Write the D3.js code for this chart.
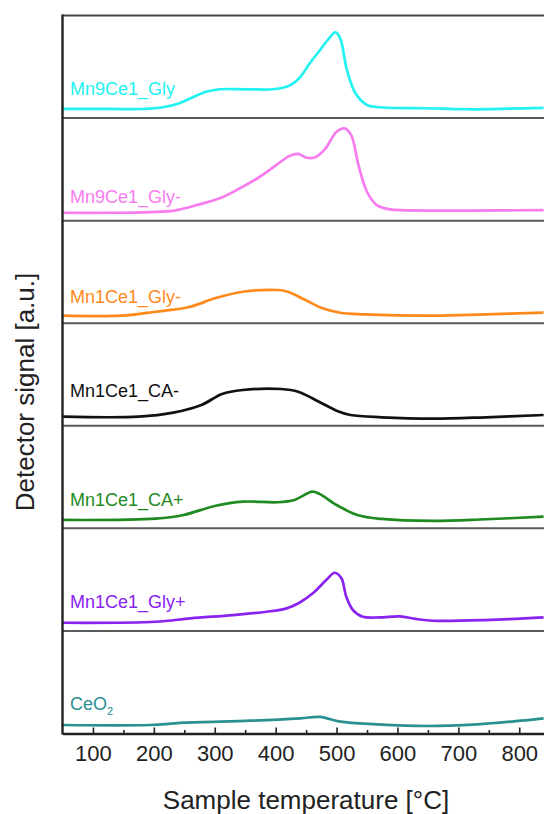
<!DOCTYPE html>
<html><head><meta charset="utf-8">
<script src="https://cdn.jsdelivr.net/npm/d3@7"></script>
<style>body{margin:0;background:#fff}svg{display:block}text{font-family:"Liberation Sans",Arial,sans-serif}</style>
</head><body><svg id="c" width="544" height="814"></svg>
<script>
// ---- data (temperature in °C, detector signal in a.u.) ----
const sampleNames = ["Mn9Ce1_Gly","Mn9Ce1_Gly-","Mn1Ce1_Gly-","Mn1Ce1_CA-","Mn1Ce1_CA+","Mn1Ce1_Gly+","CeO2"];

const tMn9Gly   = [50,127,182,215,242,264,286,308,352,396,418,430,441,456,473,488,498,506,517,531,550,572,648,714,785,840];
const sMn9Gly   = [9.1,9.1,9.1,10.8,14.8,20.8,26.4,28.8,28.8,28.8,31.4,35.2,41.5,54.8,68.1,80,85.8,79.8,48.1,24.8,13.1,10.8,9.8,8.8,9.4,10.1];

const tMn9GlyM  = [50,127,193,234,275,308,341,374,401,423,437,451,464,481,500,513,524,536,550,566,588,604,686,768,840];
const sMn9GlyM  = [7.9,7.9,8.6,10.1,16.3,22.3,32.3,43.9,55.6,64.8,66.8,62.9,63.2,71.6,88.9,92.3,85.6,55.6,28.9,15.6,11.3,10.6,10.1,10.3,10.6];

const tMn1GlyM  = [50,146,203,260,300,346,403,420,449,477,506,545,659,745,840];
const sMn1GlyM  = [7.5,7.5,11.5,16.5,24.9,31.5,33.2,31.5,23.2,14.9,10.5,8.9,7.5,8.9,10.5];

const tMn1CAM   = [50,175,232,278,312,346,409,437,471,500,523,574,659,745,840];
const sMn1CAM   = [9.1,9.1,13.1,20.8,31.8,35.8,36.8,34.1,24.1,15.1,10.8,8.5,7.1,8.5,10.8];

const tMn1CAP   = [50,203,249,300,346,403,431,460,472,500,534,574,659,745,840];
const sMn1CAP   = [8.4,9.7,13.4,22.4,26.7,26.1,28.4,36.7,34.5,23.4,13.4,9.4,7.4,9.1,11.7];

const tMn1GlyP  = [50,203,260,330,385,418,439,461,483,497,508,516,527,543,571,604,630,659,745,840];
const sMn1GlyP  = [8.2,9.2,12.6,15.9,19.2,22.6,28.2,37.6,50.9,58.2,52.6,34.2,20.9,14.2,13.6,14.6,12,10.2,10.9,13.6];

const tCeO2     = [50,194,249,359,441,473,506,566,648,731,802,840];
const sCeO2     = [8.5,8.5,10.8,12.8,15.2,16.6,11.8,9.2,7.5,9.2,12.8,15.2];

const xMajorTicks = [100,200,300,400,500,600,700,800];
const xMinorTicks = [150,250,350,450,550,650,750,850];

// ---- styles / layout ----
const lineColors = ["#22f2f2","#f77cf0","#ff8a1c","#111111","#1f8a1f","#8a22f0","#2a9090"];
const labelDy = [23.5,17.5,20,29,22.5,22.5,23.5];

const series = [
  [tMn9Gly,sMn9Gly],[tMn9GlyM,sMn9GlyM],[tMn1GlyM,sMn1GlyM],[tMn1CAM,sMn1CAM],
  [tMn1CAP,sMn1CAP],[tMn1GlyP,sMn1GlyP],[tCeO2,sCeO2]
].map(([t,s]) => t.map((v,i)=>[v,s[i]]));

const svg = d3.select("#c");
const pLeft = 62.5, pTop0 = 15.5, pBottom = 733.5, pRight = 549.7;
const nP = sampleNames.length;
const pH = (pBottom - pTop0) / nP;

const x = d3.scaleLinear().domain([50,850]).range([pLeft,pRight]);

svg.append("clipPath").attr("id","clip").append("rect")
  .attr("x",pLeft).attr("y",pTop0).attr("width",pRight-pLeft).attr("height",pBottom-pTop0);

const plot = svg.append("g").attr("clip-path","url(#clip)");

series.forEach((pts,i)=>{
  const pTop = pTop0 + i*pH, pBot = pTop + pH;
  const y = d3.scaleLinear().domain([0,102.6]).range([pBot,pTop]);
  const line = d3.line().x(d=>x(d[0])).y(d=>y(d[1])).curve(d3.curveCatmullRom.alpha(0.5));
  plot.append("path").datum(pts).attr("d",line)
    .attr("fill","none").attr("stroke",lineColors[i]).attr("stroke-width",2.7)
    .attr("stroke-linejoin","round");
  const t = svg.append("text").attr("x",pLeft+7.5).attr("y",pBot-labelDy[i])
    .attr("fill",lineColors[i]).attr("font-size",18);
  if (sampleNames[i]==="CeO2") {
    t.append("tspan").text("CeO");
    t.append("tspan").text("2").attr("font-size",11).attr("dy",5);
  } else t.text(sampleNames[i]);
});

for (let i=1;i<nP;i++){
  const yy = pTop0 + i*pH;
  svg.append("line").attr("x1",pLeft).attr("x2",pRight).attr("y1",yy).attr("y2",yy)
    .attr("stroke","#5a5a5a").attr("stroke-width",2);
}
svg.append("line").attr("x1",pLeft).attr("x2",pRight).attr("y1",pTop0).attr("y2",pTop0)
  .attr("stroke","#4a4a4a").attr("stroke-width",2.2);
svg.append("line").attr("x1",pLeft).attr("x2",pLeft).attr("y1",pTop0-1).attr("y2",pBottom+1)
  .attr("stroke","#222").attr("stroke-width",2.4);

const xAxis = d3.axisBottom(x).tickValues(xMajorTicks).tickSizeInner(-6).tickSizeOuter(0).tickPadding(12);
const gx = svg.append("g").attr("transform",`translate(0,${pBottom})`).call(xAxis);
gx.select(".domain").attr("stroke","#222").attr("stroke-width",2.4);
gx.selectAll(".tick line").attr("stroke","#222").attr("stroke-width",1.6);
gx.selectAll(".tick text").attr("font-size",22).attr("fill","#222")
  .attr("font-family","'Liberation Sans',Arial,sans-serif").attr("dy","0.72em");
const xMinor = d3.axisBottom(x).tickValues(xMinorTicks).tickSizeInner(-3.5).tickSizeOuter(0).tickFormat("");
const gm = svg.append("g").attr("transform",`translate(0,${pBottom})`).call(xMinor);
gm.select(".domain").remove();
gm.selectAll(".tick line").attr("stroke","#222").attr("stroke-width",1.6);

svg.append("text").attr("x",306).attr("y",809).attr("text-anchor","middle")
  .attr("font-size",26).attr("fill","#222").text("Sample temperature [°C]");
svg.append("text").attr("transform","translate(34,392) rotate(-90)").attr("text-anchor","middle")
  .attr("font-size",26).attr("fill","#222").text("Detector signal [a.u.]");
</script></body></html>
